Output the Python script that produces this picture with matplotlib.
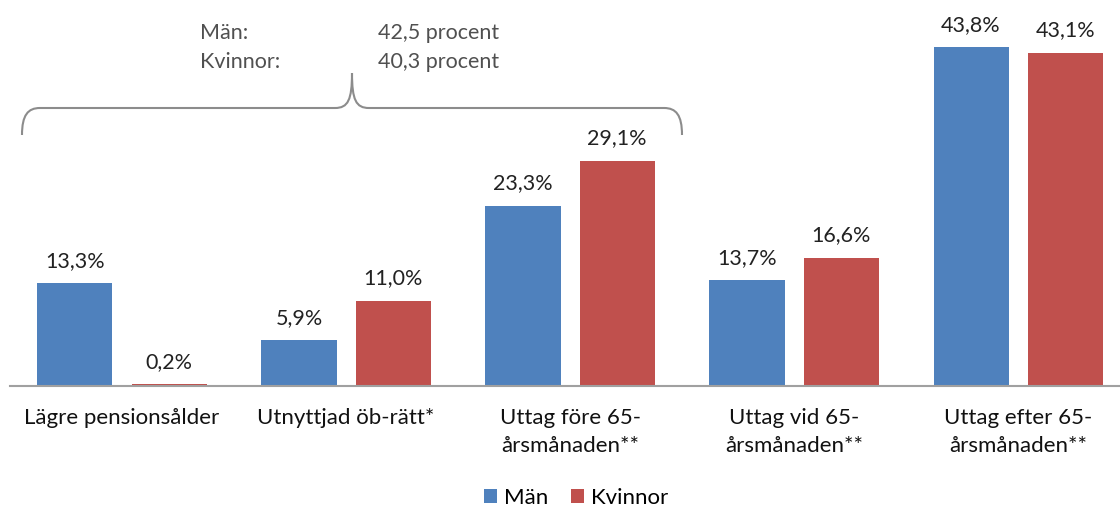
import matplotlib.pyplot as plt
import numpy as np
from matplotlib.path import Path
from matplotlib.patches import PathPatch

plt.rcParams['font.family'] = ['Lato', 'DejaVu Sans']

categories = ['Lägre pensionsålder', 'Utnyttjad öb-rätt*', 'Uttag före 65-\nårsmånaden**',
              'Uttag vid 65-\nårsmånaden**', 'Uttag efter 65-\nårsmånaden**']
man = [13.3, 5.9, 23.3, 13.7, 43.8]
kvinnor = [0.2, 11.0, 29.1, 16.6, 43.1]
series_names = ['Män', 'Kvinnor']

fig = plt.figure(figsize=(11.2, 5.07), dpi=100)
ax = fig.add_axes([10 / 1120, 121 / 507, 1110 / 1120, 386 / 507])

x = np.arange(len(categories))
width = 0.335
off = 0.21
b1 = ax.bar(x - off, man, width, color='#4F81BD', label=series_names[0])
b2 = ax.bar(x + off, kvinnor, width, color='#C0504D', label=series_names[1])

for bars, vals in [(b1, man), (b2, kvinnor)]:
    for bar, v in zip(bars, vals):
        ax.text(bar.get_x() + bar.get_width() / 2, v + 1.6, f'{v:.1f}%'.replace('.', ','),
                ha='center', va='bottom', fontsize=15.5, color='#222222')

ax.set_xlim(-0.5, 4.455)
ax.set_ylim(0, 49.9)
ax.set_yticks([])
ax.set_xticks(x)
ax.set_xticklabels(categories, fontsize=16, color='#111111', va='top', linespacing=1.5)
ax.tick_params(axis='x', length=0, pad=16)
for s in ['top', 'right', 'left']:
    ax.spines[s].set_visible(False)
ax.spines['bottom'].set_color('#A0A0A0')
ax.spines['bottom'].set_linewidth(1.5)

leg = ax.legend(loc='center', bbox_to_anchor=(576 / 1120, 9 / 507), bbox_transform=fig.transFigure,
                ncol=2, frameon=False, fontsize=16, handlelength=0.6, handleheight=0.6,
                handletextpad=0.3, columnspacing=1.0)

# brace annotation (pixel coords from top-left)
H = 507
def P(px, py):
    return (px / 1120, (H - py) / H)

verts = [P(22, 135), P(22, 115), P(28, 108), P(40, 108),
         P(335, 108),
         P(348, 108), P(352, 100), P(352, 73),
         P(352, 100), P(356, 108), P(369, 108),
         P(664, 108),
         P(676, 108), P(682, 115), P(682, 135)]
codes = [Path.MOVETO, Path.CURVE4, Path.CURVE4, Path.CURVE4,
         Path.LINETO,
         Path.CURVE4, Path.CURVE4, Path.CURVE4,
         Path.CURVE4, Path.CURVE4, Path.CURVE4,
         Path.LINETO,
         Path.CURVE4, Path.CURVE4, Path.CURVE4]
fig.patches.append(PathPatch(Path(verts, codes), transform=fig.transFigure, fill=False,
                             edgecolor='#8C8C8C', linewidth=1.5))

for py, label, val in [(33, 'Män:', '42,5 procent'), (62, 'Kvinnor:', '40,3 procent')]:
    fig.text(*P(200, py), label, fontsize=15.5, color='#505050', va='center')
    fig.text(*P(378, py), val, fontsize=15.5, color='#505050', va='center')

fig.savefig('out.png', dpi=100)
